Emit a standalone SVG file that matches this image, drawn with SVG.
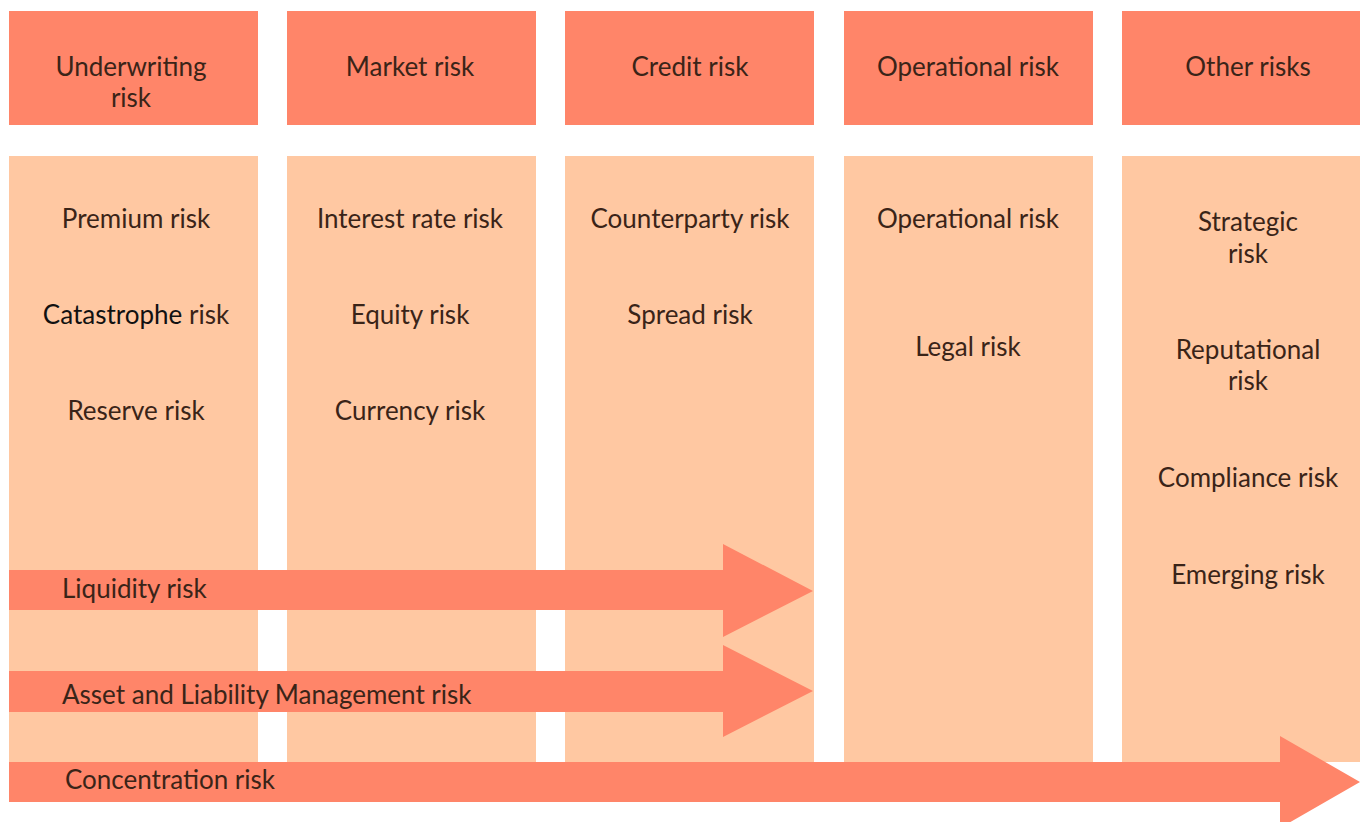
<svg xmlns="http://www.w3.org/2000/svg" width="1360" height="822" viewBox="0 0 1360 822">
<style>
.hd{fill:#FF8569}
.bd{fill:#FFC8A2}
.ar{fill:#FF8569}
text{font-family:Lato,"Open Sans","Liberation Sans",sans-serif;font-size:26px;fill:#3A2418;text-anchor:middle}
.l{text-anchor:start}
.k{fill:#111111}
</style>
<rect width="1360" height="822" fill="#FFFFFF"/>
<g id="col-underwriting">
<rect class="hd" x="9" y="11" width="249" height="114"/>
<text x="131" y="76">Underwriting</text>
<text x="131" y="107">risk</text>
<rect class="bd" x="9" y="156" width="249" height="606"/>
<text x="136" y="228">Premium risk</text>
<text x="136" y="324"><tspan class="k">Catastrophe</tspan> risk</text>
<text x="136" y="420">Reserve risk</text>
</g>
<g id="col-market">
<rect class="hd" x="287" y="11" width="249" height="114"/>
<text x="410" y="76">Market risk</text>
<rect class="bd" x="287" y="156" width="249" height="606"/>
<text x="410" y="228">Interest rate risk</text>
<text x="410" y="324">Equity risk</text>
<text x="410" y="420">Currency risk</text>
</g>
<g id="col-credit">
<rect class="hd" x="565" y="11" width="249" height="114"/>
<text x="690" y="76">Credit risk</text>
<rect class="bd" x="565" y="156" width="249" height="606"/>
<text x="690" y="228">Counterparty risk</text>
<text x="690" y="324">Spread risk</text>
</g>
<g id="col-operational">
<rect class="hd" x="844" y="11" width="249" height="114"/>
<text x="968" y="76">Operational risk</text>
<rect class="bd" x="844" y="156" width="249" height="606"/>
<text x="968" y="228">Operational risk</text>
<text x="968" y="356">Legal risk</text>
</g>
<g id="col-other">
<rect class="hd" x="1122" y="11" width="249" height="114"/>
<text x="1248" y="76">Other risks</text>
<rect class="bd" x="1122" y="156" width="249" height="606"/>
<text x="1248" y="231">Strategic</text>
<text x="1248" y="263">risk</text>
<text x="1248" y="359">Reputational</text>
<text x="1248" y="390">risk</text>
<text x="1248" y="487">Compliance risk</text>
<text x="1248" y="584">Emerging risk</text>
</g>
<g id="connectors">
<g id="arrow-liquidity">
<polygon class="ar" points="9,570 723,570 723,544 813,591 723,637 723,610 9,610"/>
<text class="l" x="62" y="598">Liquidity risk</text>
</g>
<g id="arrow-alm">
<polygon class="ar" points="9,671 723,671 723,645 813,691 723,737 723,712 9,712"/>
<text class="l" x="62" y="704">Asset and Liability Management risk</text>
</g>
<g id="arrow-concentration">
<polygon class="ar" points="9,762 1280,762 1280,736 1360,782 1280,828 1280,802 9,802"/>
<text class="l" x="65" y="789">Concentration risk</text>
</g>
</g>
</svg>
